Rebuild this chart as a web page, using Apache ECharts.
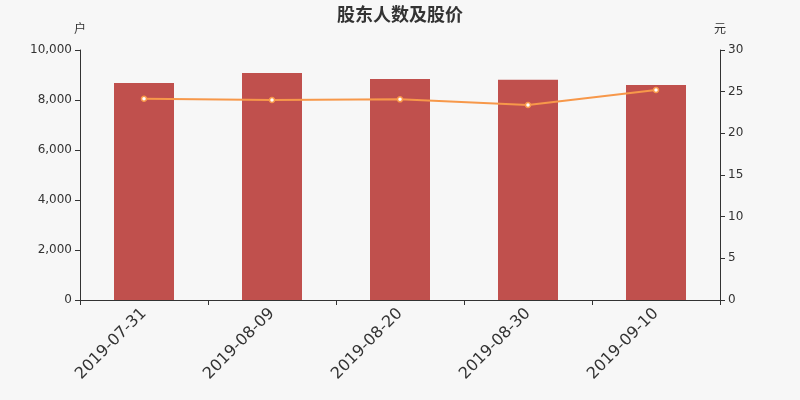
<!DOCTYPE html>
<html>
<head>
<meta charset="utf-8">
<script src="https://cdn.jsdelivr.net/npm/echarts@6/dist/echarts.min.js"></script>
<style>
html,body{margin:0;padding:0;background:#f7f7f7;}
#main{width:800px;height:400px;}
</style>
</head>
<body>
<div id="main"></div>
<script>
var categories = ['2019-07-31','2019-08-09','2019-08-20','2019-08-30','2019-09-10'];
var holders = [8680, 9080, 8840, 8810, 8600];
var prices = [24.15, 24.0, 24.08, 23.4, 25.2];

var chart = echarts.init(document.getElementById('main'));
var F = 'DejaVu Sans';
chart.setOption({
  backgroundColor:'#f7f7f7',
  textStyle:{fontFamily:F},
  title:{text:'股东人数及股价',left:'center',top:0,textStyle:{fontSize:18,fontWeight:'bold',color:'#333',fontFamily:'Noto Sans CJK SC'}},
  grid:{left:80,right:80,top:50,bottom:100},
  xAxis:{type:'category',data:categories,boundaryGap:true,
    axisLine:{lineStyle:{color:'#333'}},axisTick:{show:true,lineStyle:{color:'#333'}},
    axisLabel:{rotate:45,fontSize:16,color:'#333',margin:11,fontFamily:F}},
  yAxis:[
    {type:'value',name:'户',min:0,max:10000,interval:2000,
     nameTextStyle:{color:'#333',fontSize:12,fontFamily:'Noto Sans CJK SC'},nameGap:16,
     axisLine:{show:true,lineStyle:{color:'#333'}},axisTick:{show:true},
     splitLine:{show:false},axisLabel:{color:'#333',fontSize:12,fontFamily:F}},
    {type:'value',name:'元',min:0,max:30,interval:5,
     nameTextStyle:{color:'#333',fontSize:12,fontFamily:'Noto Sans CJK SC'},nameGap:16,
     axisLine:{show:true,lineStyle:{color:'#333'}},axisTick:{show:true},
     splitLine:{show:false},axisLabel:{color:'#333',fontSize:12,fontFamily:F}}
  ],
  series:[
    {type:'bar',data:holders,barWidth:60,itemStyle:{color:'#c0504d'}},
    {type:'line',yAxisIndex:1,data:prices,symbol:'circle',symbolSize:5,
     lineStyle:{color:'#f7984a',width:2},itemStyle:{color:'#fff',borderColor:'#f7984a',borderWidth:1.5}}
  ]
});
</script>
</body>
</html>
